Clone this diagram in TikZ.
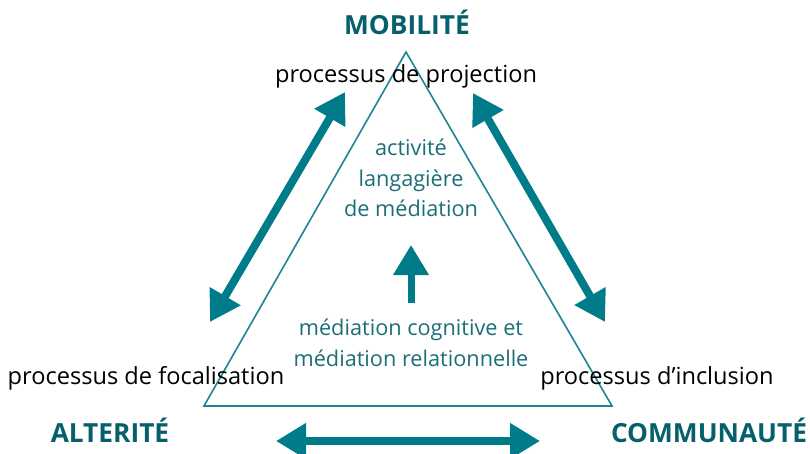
\documentclass[tikz,border=0pt]{standalone}
\usepackage{fontspec}
\setmainfont{Open Sans}
\usepackage{tikz}
\usetikzlibrary{arrows.meta, positioning, calc}

\definecolor{tealarrow}{HTML}{007B8A}
\definecolor{tealtitle}{HTML}{05606B}
\definecolor{tealtext}{HTML}{1A6F78}
\definecolor{tealline}{HTML}{1C8593}

\begin{document}
\begin{tikzpicture}[
			x=1pt, y=-1pt,
			fat/.style={draw=tealarrow, line width=8pt, {Triangle[length=30pt,width=34pt]}-{Triangle[length=30pt,width=34pt]}},
			upfat/.style={draw=tealarrow, line width=7pt, -{Triangle[length=30pt,width=34pt]}},
			pole/.style={font=\fontsize{26.3}{30}\selectfont\bfseries, text=tealtitle, inner sep=0pt},
			proc/.style={font=\fontsize{23.6}{28}\selectfont, text=black, inner sep=0pt},
			inside/.style={font=\fontsize{21.7}{30.5}\selectfont, text=tealtext, align=center, inner sep=0pt}
			]
			\useasboundingbox (0,0) rectangle (810,454);
			
			% --- Triangle ---
			\coordinate (top) at (406,52);
			\coordinate (left) at (204,406);
			\coordinate (right) at (612,406);
			\draw[tealline, line width=1.6pt, line join=miter] (top) -- (left) -- (right) -- cycle;
			
			% --- Poles ---
			\node[pole] (mobilite) at (407,22) {MOBILITÉ};
			\node[pole] (alterite) at (110,430) {ALTERITÉ};
			\node[pole] (communaute) at (709,430) {COMMUNAUTÉ};
			
			% --- Processus ---
			\node[proc] (projection) at (406,76) {processus de projection};
			\node[proc] (focalisation) at (146,378) {processus de focalisation};
			\node[proc] (inclusion) at (657,378) {processus d’inclusion};
			
			% --- Textes internes ---
			\node[inside] (activite) at (411,178) {activité\\langagière\\de médiation};
			\node[inside] (mediation) at (411,343) {médiation cognitive et\\médiation relationnelle};
			
			% --- Fleches ---
			\coordinate (lA) at (210,322);
			\coordinate (lB) at (345,92);
			\coordinate (rA) at (473,93);
			\coordinate (rB) at (605,322);
			\coordinate (bA) at (276,441);
			\coordinate (bB) at (540,441);
			\coordinate (uA) at (411,303);
			\coordinate (uB) at (411,245);
			\draw[fat] (lA) -- (lB);
			\draw[fat] (rA) -- (rB);
			\draw[fat] (bA) -- (bB);
			\draw[upfat] (uA) -- (uB);
			
		\end{tikzpicture}
\end{document}
